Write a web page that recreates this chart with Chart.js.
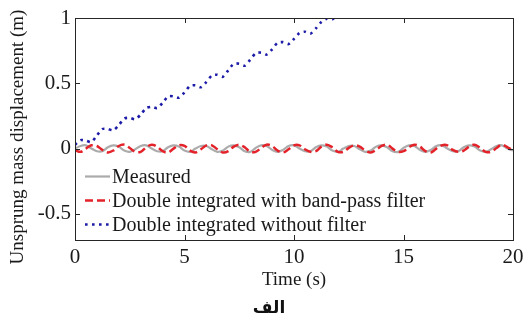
<!DOCTYPE html>
<html>
<head>
<meta charset="utf-8">
<script src="https://cdn.jsdelivr.net/npm/chart.js@4/dist/chart.umd.min.js"></script>
<style>
  html, body { margin: 0; padding: 0; background: #fff; overflow: hidden; }
  #disp { display: block; }
</style>
</head>
<body>
<canvas id="disp" width="529" height="330"></canvas>
<script>
// time axis (s) and the three series
let times = [0,0.25,0.5,0.75,1,1.25,1.5,1.75,2,2.25,2.5,2.75,3,3.25,3.5,3.75,4,4.25,4.5,4.75,
  5,5.25,5.5,5.75,6,6.25,6.5,6.75,7,7.25,7.5,7.75,8,8.25,8.5,8.75,9,9.25,9.5,9.75,
  10,10.25,10.5,10.75,11,11.25,11.5,11.75,12,12.25,12.5,12.75,13,13.25,13.5,13.75,14,14.25,14.5,14.75,
  15,15.25,15.5,15.75,16,16.25,16.5,16.75,17,17.25,17.5,17.75,18,18.25,18.5,18.75,19,19.25,19.5,19.75,
  20];

let measured = [0.00,0.02,0.025,0.00,-0.02,-0.02,0.01,0.025,0.015,-0.015,-0.025,-0.005,0.02,0.025,0.0,-0.02,-0.02,0.01,0.025,0.015,
  -0.015,-0.025,0.0,0.02,0.02,-0.005,-0.025,-0.015,0.015,0.025,0.01,-0.02,-0.025,0.005,0.025,0.02,-0.01,-0.025,-0.01,0.02,
  0.025,0.0,-0.02,-0.02,0.01,0.025,0.015,-0.015,-0.025,0.0,0.02,0.02,-0.005,-0.025,-0.015,0.015,0.025,0.01,-0.02,-0.025,
  0.005,0.025,0.02,-0.01,-0.025,-0.01,0.02,0.025,0.0,-0.02,-0.02,0.01,0.025,0.015,-0.015,-0.025,-0.005,0.02,0.025,0.0,
  -0.015];

let bandPass = [-0.01,-0.025,0.0,0.025,0.02,-0.01,-0.03,-0.015,0.02,0.03,0.005,-0.025,-0.025,0.01,0.03,0.015,-0.02,-0.03,0.0,0.025,
  0.02,-0.015,-0.03,-0.005,0.025,0.025,-0.005,-0.03,-0.02,0.015,0.03,0.01,-0.025,-0.025,0.005,0.03,0.02,-0.015,-0.03,-0.005,
  0.025,0.025,-0.005,-0.025,-0.02,0.015,0.03,0.01,-0.025,-0.025,0.005,0.025,0.015,-0.015,-0.03,-0.01,0.02,0.03,0.0,-0.025,
  -0.02,0.01,0.03,0.015,-0.02,-0.03,0.0,0.025,0.025,-0.01,-0.025,-0.015,0.015,0.03,0.005,-0.025,-0.025,0.005,0.03,0.01,
  -0.015];

// without filter: drifts off the top of the axes at ~12 s
let noFilter = [0.03,0.065,0.06,0.05,0.10,0.15,0.15,0.14,0.18,0.23,0.235,0.225,0.26,0.31,0.32,0.31,0.35,0.40,0.40,0.39,
  0.43,0.48,0.485,0.47,0.51,0.56,0.565,0.55,0.60,0.65,0.65,0.635,0.68,0.73,0.735,0.72,0.76,0.81,0.815,0.80,
  0.84,0.885,0.895,0.88,0.92,0.97,0.995,0.99,1.03,1.08];

let xTicks = [0, 5, 10, 15, 20];
let yTicks = [-0.5, 0, 0.5, 1];

let seriesNames = ["Measured", "Double integrated with band-pass filter", "Double integrated without filter"];
let yTitle = "Unsprung mass displacement (m)";
let caption = "الف";

let serif = "'Liberation Serif', 'Times New Roman', serif";
let axisColor = "#262626";

function pts(xs, ys) {
    return ys.map(function(v, i) { return {x: xs[i], y: v}; });
}

// frame + inward ticks like matlab
let framePlugin = {
    id: "frame",
    afterDatasetsDraw: function(chart) {
        let ctx = chart.ctx;
        let a = chart.chartArea;
        let xs = chart.scales.x, ys = chart.scales.y;
        ctx.save();
        ctx.strokeStyle = axisColor;
        ctx.lineWidth = 1;
        ctx.strokeRect(Math.round(a.left) + 0.5, Math.round(a.top) + 0.5,
            Math.round(a.right - a.left), Math.round(a.bottom - a.top));
        ctx.beginPath();
        xTicks.forEach(function(t) {
            let px = Math.round(xs.getPixelForValue(t)) + 0.5;
            ctx.moveTo(px, a.bottom); ctx.lineTo(px, a.bottom - 5);
            ctx.moveTo(px, a.top); ctx.lineTo(px, a.top + 5);
        });
        yTicks.forEach(function(t) {
            let py = Math.round(ys.getPixelForValue(t)) + 0.5;
            ctx.moveTo(a.left, py); ctx.lineTo(a.left + 5, py);
            ctx.moveTo(a.right, py); ctx.lineTo(a.right - 5, py);
        });
        ctx.stroke();
        ctx.restore();
    }
};

// legend inside the axes (lower left, no box), y title and the caption underneath
let textPlugin = {
    id: "texts",
    afterDraw: function(chart) {
        let ctx = chart.ctx;
        let a = chart.chartArea;
        let baselines = [183, 207, 231];
        ctx.save();
        ctx.font = "20px " + serif;
        ctx.textBaseline = "alphabetic";
        ctx.fillStyle = "#1a1a1a";
        chart.data.datasets.forEach(function(ds, i) {
            let y = baselines[i] - 6.5;
            ctx.beginPath();
            ctx.strokeStyle = ds.borderColor;
            ctx.lineWidth = ds.borderWidth;
            ctx.setLineDash(ds.borderDash || []);
            ctx.moveTo(a.left + 10, y);
            ctx.lineTo(a.left + 35, y);
            ctx.stroke();
            ctx.setLineDash([]);
            ctx.fillText(ds.label, a.left + 37, baselines[i]);
        });

        ctx.font = "19px " + serif;
        ctx.textAlign = "center";
        ctx.textBaseline = "middle";
        ctx.translate(18, 137);
        ctx.rotate(-Math.PI / 2);
        ctx.fillText(yTitle, 0, 0);
        ctx.restore();

        ctx.save();
        ctx.font = "bold 17px 'DejaVu Sans', sans-serif";
        ctx.textAlign = "center";
        ctx.textBaseline = "middle";
        ctx.fillStyle = "#111";
        ctx.fillText(caption, 269, 309);
        ctx.restore();
    }
};

let config = {
    type: "line",
    data: {
        datasets: [{
            label: seriesNames[0],
            data: pts(times, measured),
            borderColor: "#ababab",
            borderWidth: 2.2,
            tension: 0.35,
            pointRadius: 0,
            order: 3
        }, {
            label: seriesNames[1],
            data: pts(times, bandPass),
            borderColor: "#e3222a",
            borderWidth: 2.5,
            borderDash: [8, 4],
            tension: 0.35,
            pointRadius: 0,
            order: 2
        }, {
            label: seriesNames[2],
            data: pts(times, noFilter),
            borderColor: "#1c1ca8",
            borderWidth: 2.6,
            borderDash: [2.6, 4.4],
            tension: 0.25,
            pointRadius: 0,
            order: 1
        }]
    },
    options: {
        responsive: false,
        animation: false,
        layout: { padding: { left: 0, right: 16, top: 18, bottom: 36 } },
        plugins: {
            legend: { display: false },
            tooltip: { enabled: false }
        },
        scales: {
            x: {
                type: "linear",
                min: 0,
                max: 20,
                grid: { display: false, drawTicks: false },
                border: { display: false },
                afterBuildTicks: function(scale) {
                    scale.ticks = xTicks.map(function(v) { return {value: v}; });
                },
                afterFit: function(scale) { scale.height = 54; },
                ticks: {
                    padding: 5,
                    maxRotation: 0,
                    color: "#1a1a1a",
                    font: { family: serif, size: 21 }
                },
                title: {
                    display: true,
                    text: "Time (s)",
                    color: "#1a1a1a",
                    font: { family: serif, size: 19 },
                    padding: { top: 0, bottom: 3 }
                }
            },
            y: {
                type: "linear",
                min: -0.7,
                max: 1,
                grid: { display: false, drawTicks: false },
                border: { display: false },
                afterBuildTicks: function(scale) {
                    scale.ticks = yTicks.map(function(v) { return {value: v}; });
                },
                afterFit: function(scale) { scale.width = 75; },
                ticks: {
                    padding: 4,
                    color: "#1a1a1a",
                    font: { family: serif, size: 21 },
                    callback: function(v) { return String(v); }
                }
            }
        }
    },
    plugins: [framePlugin, textPlugin]
};

// draw
window.addEventListener("load", function() {
    let ctx = document.getElementById("disp").getContext("2d");
    myChart = new Chart(ctx, config);
}, false);
</script>
</body>
</html>
